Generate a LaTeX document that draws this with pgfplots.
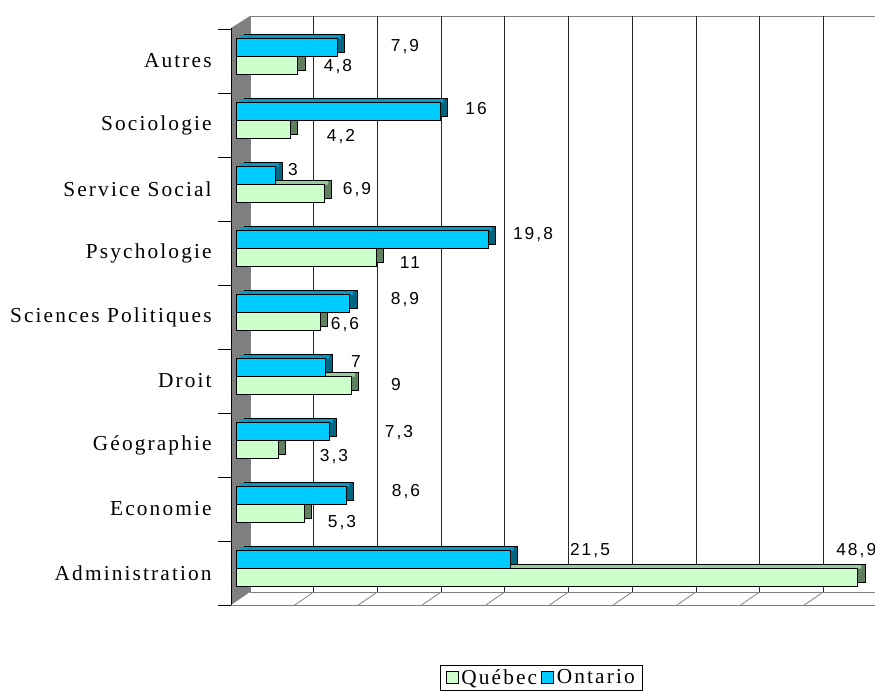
\documentclass[border=0pt]{standalone}
\usepackage{fontspec}
\usepackage{pgfplots}
\usepackage{pgfplotstable}
\pgfplotsset{compat=1.18}

\newfontfamily\catfont[LetterSpace=10]{Liberation Serif}
\newfontfamily\valfont[LetterSpace=12]{Liberation Sans}

\definecolor{ontF}{HTML}{00CCFF}
\definecolor{ontT}{HTML}{0099CC}
\definecolor{ontS}{HTML}{006680}
\definecolor{queF}{HTML}{CCFFCC}
\definecolor{queT}{HTML}{99CC99}
\definecolor{queS}{HTML}{5F7F5F}

% idx 0 = bottom category
\pgfplotstableread{
idx que ont
0 48.9 21.5
1 5.3 8.6
2 3.3 7.3
3 9 7
4 6.6 8.9
5 11 19.8
6 6.9 3
7 4.2 16
8 4.8 7.9
}\datatable

\begin{document}
\begin{tikzpicture}
\useasboundingbox (0,0) rectangle (656.25pt,-517.5pt);
\clip (0,0) rectangle (656.25pt,-517.5pt);

% 3D frame, in pixel units of the reference (y down)
\begin{scope}[x=0.75pt,y=-0.75pt]
  \draw[gray, line width=0.75pt, fill=white] (250,16) -- (880,16) -- (880,592) -- (250,592) -- cycle;
  \foreach \gx in {313.7,377.4,441.1,504.8,568.5,632.2,695.9,759.6,823.3}{
    \draw[black!85, line width=0.6pt] (\gx,16) -- (\gx,592);
    \draw[gray, line width=0.6pt] (\gx,592) -- (\gx-19,605);
  }
  \draw[gray, line width=0.75pt] (231,605) -- (880,605);
  \fill[gray] (231,28) -- (250,16) -- (250,592) -- (231,605) -- cycle;
  \draw[black, line width=0.75pt] (231,28) -- (231,605);
\end{scope}

\begin{axis}[
  at={(173.25pt,-453.75pt)}, anchor=south west,
  scale only axis,
  width=483pt, height=432pt,
  xmin=-0.47, xmax=50.24,
  ymin=-0.5, ymax=8.5,
  enlargelimits=false,
  clip=false,
  axis line style={draw=none},
  xtick=\empty,
  ytick={0,...,8},
  yticklabels={Administration,Economie,Géographie,Droit,Sciences Politiques,Psychologie,Service Social,Sociologie,Autres},
  ytick pos=left,
  major tick length=0pt,
  yticklabel style={font=\catfont\fontsize{16}{19}\selectfont, xshift=-11pt},
  extra y ticks={-0.5,0.5,1.5,2.5,3.5,4.5,5.5,6.5,7.5,8.5},
  extra y tick labels={},
  extra y tick style={major tick length=9.75pt, tick align=outside, tick style={black, line width=0.75pt}},
  legend columns=2,
  legend style={at={(0.3245,-0.104)}, anchor=north west, draw=black, line width=0.6pt,
    font=\catfont\fontsize{16}{17}\selectfont, inner xsep=4pt, inner ysep=1pt,
    /tikz/every even column/.append style={column sep=1pt}},
  legend image code/.code={\draw[#1] (0pt,-4.5pt) rectangle (9pt,4.5pt);},
]
  % Québec: side, top, front
  \addplot[xbar, bar width=13.5pt, bar shift=-0.375pt, xshift=5.25pt, fill=queS, draw=black, line width=0.6pt, forget plot]
    table[x=que, y=idx] {\datatable};
  \addplot[xbar, bar width=2.625pt, bar shift=4.69pt, xshift=2.625pt, fill=queT, draw=none, forget plot]
    table[x=que, y=idx] {\datatable};
  \addplot[xbar, bar width=13.5pt, bar shift=-3.375pt, fill=queF, draw=black, line width=0.75pt]
    table[x=que, y=idx] {\datatable};
  \addlegendentry{Québec}
  % Ontario: side, top, front
  \addplot[xbar, bar width=13.5pt, bar shift=13.125pt, xshift=5.25pt, fill=ontS, draw=black, line width=0.6pt, forget plot]
    table[x=ont, y=idx] {\datatable};
  \addplot[xbar, bar width=2.625pt, bar shift=18.19pt, xshift=2.625pt, fill=ontT, draw=none, forget plot]
    table[x=ont, y=idx] {\datatable};
  \addplot[xbar, bar width=13.5pt, bar shift=10.125pt, fill=ontF, draw=black, line width=0.75pt]
    table[x=ont, y=idx] {\datatable};
  \addlegendentry{Ontario}
\end{axis}

% value labels
\begin{scope}[x=0.75pt,y=-0.75pt, every node/.style={font=\valfont\fontsize{13}{15}\selectfont, inner sep=0pt}]
  \node at (405,47) {7,9};
  \node at (338,67) {4,8};
  \node at (476,109) {16};
  \node at (341,137) {4,2};
  \node at (293,170) {3};
  \node at (357,190) {6,9};
  \node at (533,235) {19,8};
  \node at (410,263) {11};
  \node at (405,300) {8,9};
  \node at (345,325) {6,6};
  \node at (356,362) {7};
  \node at (396,385) {9};
  \node at (399,433) {7,3};
  \node at (334,457) {3,3};
  \node at (406,492) {8,6};
  \node at (342,523) {5,3};
  \node at (590,551) {21,5};
  \node[anchor=west] at (836,551) {48,9};
\end{scope}
\end{tikzpicture}
\end{document}
